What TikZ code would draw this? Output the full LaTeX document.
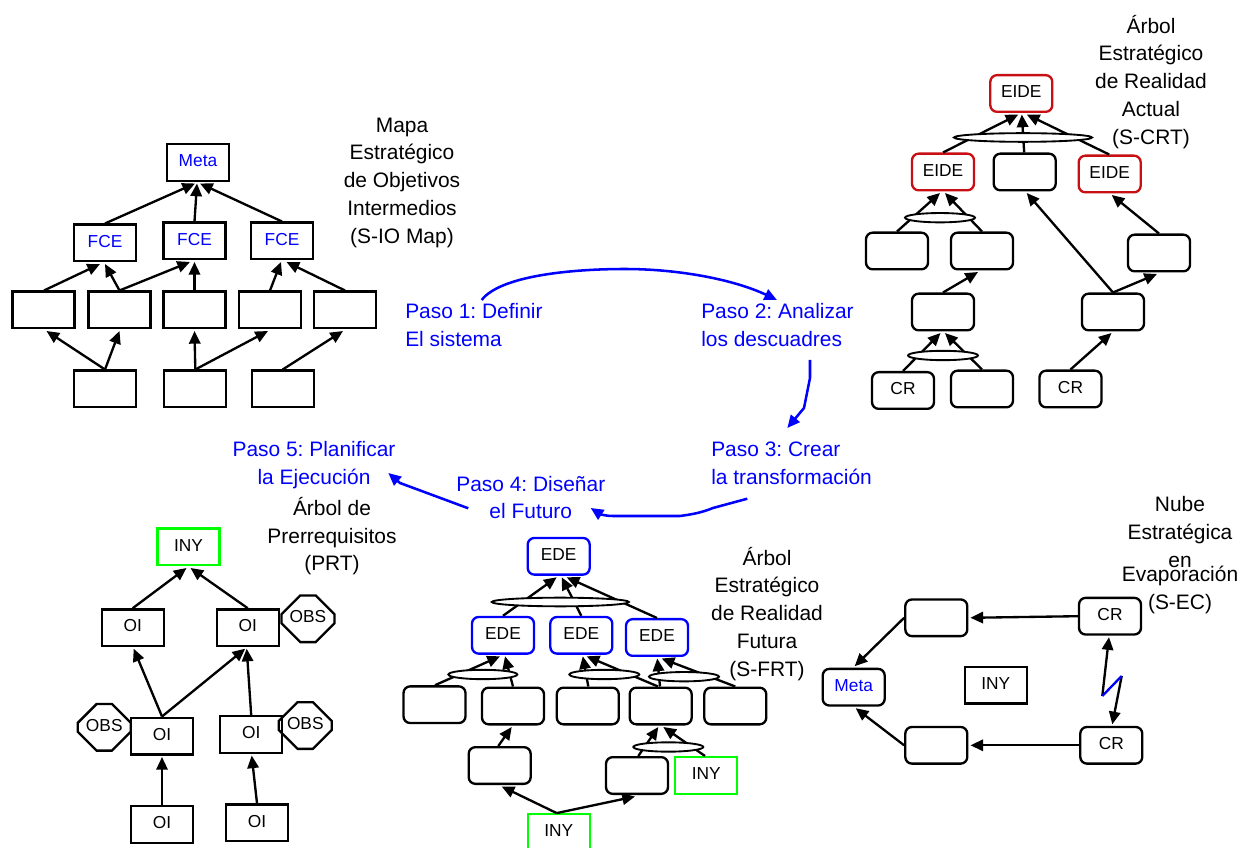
\documentclass[tikz,border=0pt]{standalone}
\usepackage{fontspec}
\setmainfont{Liberation Sans}
\usetikzlibrary{arrows.meta,calc,shapes.geometric,shapes.misc}
\definecolor{pblue}{HTML}{0000FF}
\definecolor{pred}{HTML}{C80F14}
\definecolor{pgreen}{HTML}{00FF00}
\tikzset{
  boxbase/.style={draw=black,line width=1.75pt,minimum width=46.5pt,minimum height=27.5pt,inner sep=0pt,font=\fontsize{13}{15}\selectfont,text height=9.3pt,text depth=3pt},
  sqbox/.style={boxbase},
  rdbox/.style={boxbase,rounded corners=5pt},
  redbox/.style={rdbox,draw=pred},
  bluebox/.style={rdbox,draw=pblue},
  greenbox/.style={boxbase,draw=pgreen},
  octbox/.style={draw=black,line width=1.75pt,chamfered rectangle,chamfered rectangle xsep=8pt,chamfered rectangle ysep=8pt,minimum width=39pt,minimum height=35pt,inner sep=0pt,font=\fontsize{13}{15}\selectfont,text height=9.3pt,text depth=3pt},
  andell/.style={draw=black,fill=white,ellipse,line width=1.4pt,inner sep=0pt},
  arr/.style={draw=black,line width=1.75pt,-{Triangle[length=9.5pt,width=8.5pt]}},
  barr/.style={draw=pblue,line width=1.9pt,-{Triangle[length=9.5pt,width=8.5pt]},line join=round},
  titletxt/.style={align=center,font=\fontsize{15.7}{20.8}\selectfont\frenchspacing,inner sep=0pt},
  steptxt/.style={titletxt,text=pblue},
  steptxtl/.style={steptxt,align=left,anchor=west},
}
\newcommand{\Up}[4]{\draw[arr] ($(#1.north)+(#2,0)$) -- ($(#3.south)+(#4,1.5)$);}
\begin{document}
\begin{tikzpicture}[x=0.75pt,y=-0.75pt]
\clip (0,0) rectangle (1240,848);
\useasboundingbox (0,0) rectangle (1240,848);

% ---- S-IO map
\node[sqbox,text=pblue] (m) at (198,162.5) {Meta};
\node[sqbox,text=pblue] (f1) at (105,243) {FCE};
\node[sqbox,text=pblue] (f2) at (194.5,241) {FCE};
\node[sqbox,text=pblue] (f3) at (282,241) {FCE};
\node[sqbox] (r1) at (43.5,310) {};
\node[sqbox] (r2) at (119.5,310) {};
\node[sqbox] (r3) at (194.5,310) {};
\node[sqbox] (r4) at (270,310) {};
\node[sqbox] (r5) at (345,310) {};
\node[sqbox] (b1) at (105,389) {};
\node[sqbox] (b2) at (195.3,389) {};
\node[sqbox] (b3) at (282.7,389) {};
\Up{f1}{0}{m}{-3}\Up{f2}{0}{m}{-1}\Up{f3}{0}{m}{2}
\Up{r1}{0.5}{f1}{-5}\Up{r2}{0}{f1}{0}\Up{r2}{0}{f2}{-4.5}\Up{r3}{0}{f2}{0}\Up{r4}{0}{f3}{-1}\Up{r5}{0}{f3}{4.5}
\Up{b1}{0}{r1}{3}\Up{b1}{0}{r2}{0}\Up{b2}{0}{r3}{0}\Up{b2}{0}{r4}{-2}\Up{b3}{0}{r5}{-2}

% ---- S-CRT
\node[redbox] (ct) at (1021.3,93.5) {EIDE};
\node[redbox] (c1) at (943,172) {EIDE};
\node[rdbox] (c2) at (1024.7,172) {};
\node[redbox] (c3) at (1109.7,174) {EIDE};
\node[rdbox] (cl1) at (897,251) {};
\node[rdbox] (cl2) at (982,251) {};
\node[rdbox] (cr) at (1159,253) {};
\node[rdbox] (cm1) at (943,312) {};
\node[rdbox] (cm2) at (1113,312) {};
\node[rdbox] (cb1) at (903,390.5) {CR};
\node[rdbox] (cb2) at (982,389) {};
\node[rdbox] (cb3) at (1070.5,389) {CR};
\Up{c1}{0}{ct}{-3}\Up{c2}{-0.5}{ct}{0.5}\Up{c3}{-0.5}{ct}{5.5}
\Up{cl1}{0}{c1}{-3}\Up{cl2}{0}{c1}{2}
\Up{cm1}{0}{cl2}{-4}
\Up{cm2}{0}{c2}{2}\Up{cm2}{0}{cr}{-2}
\Up{cr}{0}{c3}{2}
\Up{cb1}{0}{cm1}{-2.5}\Up{cb2}{0}{cm1}{2}\Up{cb3}{0}{cm2}{-1.5}
\node[andell,minimum width=138pt*0.75,minimum height=6.5pt] (ce1) at (1023,137.5) {};
\node[andell,minimum width=70pt*0.75,minimum height=7pt] (ce2) at (940,217.7) {};
\node[andell,minimum width=70pt*0.75,minimum height=7pt] (ce3) at (943,355.5) {};

% ---- S-FRT
\node[bluebox] (ft) at (558.7,556.3) {EDE};
\node[bluebox] (e1) at (503,635.3) {EDE};
\node[bluebox] (e2) at (581.3,635.3) {EDE};
\node[bluebox] (e3) at (657,637.5) {EDE};
\node[rdbox] (a1) at (434.5,704.7) {};
\node[rdbox] (a2) at (513,706) {};
\node[rdbox] (a3) at (587.8,706) {};
\node[rdbox] (a4) at (660.7,706) {};
\node[rdbox] (a5) at (735.3,706) {};
\node[rdbox] (fb1) at (499.7,765.5) {};
\node[rdbox] (fb2) at (637,775.5) {};
\node[greenbox] (gi1) at (706.3,775.5) {INY};
\node[greenbox] (gi2) at (558.7,832.6) {INY};
\Up{e1}{0}{ft}{-2}\Up{e2}{0}{ft}{3}\Up{e3}{0}{ft}{8}
\Up{a1}{0.5}{e1}{-3}\Up{a2}{0}{e1}{2}
\Up{a3}{0.5}{e2}{1.5}\Up{a4}{-2.7}{e2}{5.4}
\Up{a4}{-0.7}{e3}{0.3}\Up{a5}{0}{e3}{4.7}
\Up{fb1}{-1.4}{a2}{-1.3}
\Up{fb2}{1.3}{a4}{-2.4}\Up{gi1}{-1.3}{a4}{2.6}
\Up{gi2}{-2}{fb1}{2}\Up{gi2}{-2}{fb2}{-2}
\node[andell,minimum width=137pt*0.75,minimum height=6.5pt] (fe1) at (560.3,602) {};
\node[andell,minimum width=69pt*0.75,minimum height=7pt] (fe2) at (482.8,674.5) {};
\node[andell,minimum width=70pt*0.75,minimum height=7pt] (fe3) at (604.3,674.5) {};
\node[andell,minimum width=70pt*0.75,minimum height=7pt] (fe4) at (684,676.7) {};
\node[andell,minimum width=70pt*0.75,minimum height=7pt] (fe5) at (668.3,747) {};

% ---- S-EC
\node[rdbox] (nt) at (936.3,617.8) {};
\node[rdbox] (nc1) at (1110,616.2) {CR};
\node[rdbox,text=pblue] (nm) at (853.7,687.2) {Meta};
\node[sqbox] (ni) at (995.7,685.3) {INY};
\node[rdbox] (nb) at (936.3,745.3) {};
\node[rdbox] (nc2) at (1111.3,745.3) {CR};
\draw[arr] (nc1.west) -- ($(nt.east)+(2,0)$);
\draw[arr] (nc2.west) -- ($(nb.east)+(2,0)$);
\draw[arr] (nt.west) -- ($(nm.north)+(1,-1.5)$);
\draw[arr] (nb.west) -- ($(nm.south)+(2,1.5)$);
\coordinate (z1) at (1102.3,696);
\coordinate (z2) at (1121.7,676);
\draw[arr] (z1) -- ($(nc1.south)+(-1,1.5)$);
\draw[arr] (z2) -- ($(nc2.north)+(1,-1.5)$);
\draw[draw=pblue,line width=1.75pt] (z1) -- (z2);

% ---- PRT
\node[greenbox] (pi) at (188.5,547) {INY};
\node[sqbox] (p1) at (132.7,627.7) {OI};
\node[sqbox] (p2) at (247.7,627.7) {OI};
\node[octbox] (ob1) at (308,618.8) {OBS};
\node[sqbox] (p3) at (162,736) {OI};
\node[sqbox] (p4) at (251.2,734.5) {OI};
\node[octbox] (ob3) at (104.3,727.3) {OBS};
\node[octbox] (ob4) at (305.3,725.5) {OBS};
\node[sqbox] (p5) at (162,824.5) {OI};
\node[sqbox] (p6) at (257,822.8) {OI};
\Up{p1}{0}{pi}{-2}\Up{p2}{0}{pi}{2}
\Up{p3}{0}{p1}{1}\Up{p3}{0}{p2}{-2.5}\Up{p4}{0}{p2}{-1}
\Up{p5}{0}{p3}{0}\Up{p6}{0}{p4}{0.5}

% ---- blue steps
\node[steptxtl] (s1) at (405,327) {\strut Paso 1: Definir\\El sistema\strut};
\node[steptxtl] (s2) at (701,327) {\strut Paso 2: Analizar\\los descuadres\strut};
\node[steptxtl] (s3) at (711,465) {\strut Paso 3: Crear\\la transformación\strut};
\node[steptxt] (s4) at (530.8,499.5) {\strut Paso 4: Diseñar\\el Futuro\strut};
\node[steptxt] (s5) at (314,465) {\strut Paso 5: Planificar\\la Ejecución\strut};
\coordinate (c12) at (481.7,300);
\coordinate (c21) at (777,300);
\draw[barr] (c12) .. controls (500,276) and (570,269) .. (625,269) .. controls (680,269) and (735,280) .. (c21);
\coordinate (c23) at (810,360);
\coordinate (c32) at (787.3,428);
\draw[barr] (c23) -- (810,378) -- (804,408) -- (c32);
\coordinate (c34) at (747.3,498.7);
\coordinate (c43) at (590.7,508);
\draw[barr] (c34) -- (713,508) .. controls (703,512) and (695,514) .. (680,516) -- (613,516) .. controls (605,516) and (600,514) .. (c43);
\coordinate (c45) at (468.3,508.3);
\coordinate (c54) at (388.3,473);
\draw[barr] (c45) -- (400,483) -- (c54);

% ---- titles
\node[titletxt] (t1) at (402,182) {\strut Mapa\\Estratégico\\de Objetivos\\Intermedios\\(S-IO Map)\strut};
\node[titletxt] (t2) at (1151,83) {\strut Árbol\\Estratégico\\de Realidad\\Actual\\(S-CRT)\strut};
\node[titletxt] (t3) at (332,537.5) {\strut Árbol de\\Prerrequisitos\\(PRT)\strut};
\node[titletxt] (t4) at (767,615) {\strut Árbol\\Estratégico\\de Realidad\\Futura\\(S-FRT)\strut};
\node[titletxt] (t5) at (1180,534) {\strut Nube\\Estratégica\\en\strut};
\node[titletxt] (t6) at (1180,590) {\strut Evaporación\\(S-EC)\strut};
\end{tikzpicture}
\end{document}
